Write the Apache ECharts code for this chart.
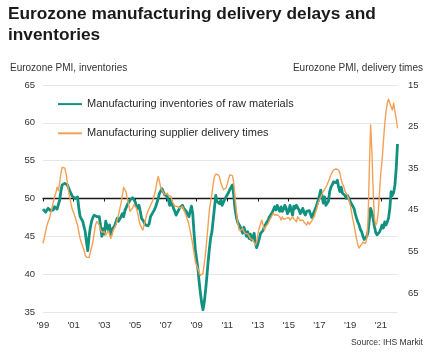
<!DOCTYPE html>
<html><head><meta charset="utf-8">
<script src="https://cdn.jsdelivr.net/npm/echarts@6/dist/echarts.min.js"></script>
<style>html,body{margin:0;padding:0;background:#fff}#c{width:438px;height:356px}</style>
</head><body><div id="c"></div>
<script>
const titleText = 'Eurozone manufacturing delivery delays and\ninventories';
const leftAxisName = 'Eurozone PMI, inventories';
const rightAxisName = 'Eurozone PMI, delivery times';
const sourceText = 'Source: IHS Markit';
const seriesNames = ['Manufacturing inventories of raw materials', 'Manufacturing supplier delivery times'];

// monthly categories Jan 1999 - Feb 2022
const startYear = 1999, endYear = 2022, endMonth = 2;
const months = [];
for (let y = startYear; y <= endYear; y++) {
  for (let m = 1; m <= 12; m++) {
    if (y === endYear && m > endMonth) break;
    months.push(y + '-' + String(m).padStart(2, '0'));
  }
}
const xTickYears = ['1999','2001','2003','2005','2007','2009','2011','2013','2015','2017','2019','2021'];
const xTickLabels = ["'99","'01","'03","'05","'07","'09","'11","'13","'15","'17","'19","'21"];
const leftMin = 35, leftMax = 65, leftStep = 5;
const rightMin = 15, rightMax = 69.6;
const rightTickLabels = [15, 25, 35, 45, 55, 65];

// Eurozone PMI, manufacturing inventories of raw materials (left axis)
const inventories = [
  48.6, 48.4, 48.2, 48.3, 48.7, 48.8, 48.4, 48.2, 48.5, 48.9, 49.0, 48.6,
  48.5, 49.8, 51.0, 51.8, 51.6, 52.0, 52.1, 51.8, 51.6, 51.0, 50.6, 50.3,
  50.1, 50.0, 49.9, 50.2, 48.7, 47.6, 47.3, 47.0, 46.8, 45.6, 44.2, 43.1,
  45.0, 46.2, 47.0, 47.5, 47.8, 48.0, 47.6, 47.8, 47.6, 46.3, 45.0, 46.0,
  45.3, 47.0, 46.9, 45.8, 46.5, 45.2, 45.9, 46.0, 46.4, 46.9, 47.4, 47.0,
  47.0, 47.6, 48.0, 47.6, 48.4, 48.8, 49.2, 49.5, 49.8, 49.9, 50.1, 50.0,
  49.6, 49.0, 48.7, 49.1, 48.3, 47.4, 47.2, 46.9, 46.5, 46.3, 46.4, 46.7,
  47.6, 47.9, 48.2, 48.5, 48.9, 49.4, 50.0, 50.7, 51.0, 51.3, 50.9, 50.5,
  50.4, 50.3, 49.8, 49.1, 49.8, 49.2, 48.7, 48.3, 47.8, 48.0, 48.5, 48.8,
  48.9, 49.1, 48.7, 48.5, 48.3, 47.9, 47.6, 47.8, 49.0, 48.0, 45.5, 43.3,
  42.0, 40.8, 39.0, 37.5, 36.2, 35.3, 36.3, 37.8, 39.6, 41.6, 43.3, 44.8,
  45.6, 47.2, 48.8, 50.4, 49.6, 49.8, 49.3, 49.8, 49.1, 49.5, 49.9, 50.2,
  50.3, 50.8, 51.2, 51.5, 51.8, 50.5, 48.7, 47.6, 46.9, 46.7, 46.3, 46.1,
  45.4, 46.2, 45.6, 45.0, 45.6, 44.7, 45.3, 44.5, 44.9, 45.4, 44.0, 43.5,
  43.6, 44.7, 45.4, 45.2, 45.8, 46.3, 46.5, 46.9, 47.2, 47.6, 47.8, 48.1,
  48.3, 48.9, 48.5, 49.1, 48.6, 48.3, 48.9, 48.3, 48.6, 49.1, 48.7, 48.0,
  48.3, 49.1, 48.5, 47.8, 49.0, 48.7, 49.1, 48.9, 48.5, 48.0, 48.3, 48.7,
  48.1, 47.8, 48.3, 48.5, 48.4, 48.2, 47.5, 47.9, 48.3, 48.7, 49.2, 49.8,
  50.4, 51.1, 50.4, 49.4, 50.2, 49.1, 48.9, 49.6, 50.9, 51.5, 51.8, 52.2,
  52.0, 52.1, 52.4, 51.5, 50.9, 51.5, 50.7, 50.9, 50.4, 50.0, 50.4, 50.0,
  49.8, 49.3, 49.1, 48.7, 48.0, 47.4, 46.9, 46.5, 45.9, 45.6, 45.0, 44.6,
  44.5, 45.0, 45.6, 47.2, 48.7, 48.2, 47.3, 46.3, 45.5, 45.2, 45.0, 45.6,
  46.0, 46.5, 46.1, 46.9, 46.5, 46.9, 47.4, 48.7, 50.9, 50.4, 50.8, 51.8,
  54.0, 57.2
];

// Eurozone PMI, manufacturing supplier delivery times (right axis, inverted)
const deliveryTimes = [
  53.1, 51.8, 50.3, 48.9, 47.9, 47.2, 45.8, 44.6, 43.2, 42.0, 41.0, 39.6,
  40.4, 38.6, 36.2, 34.8, 34.5, 35.0, 36.2, 38.4, 40.6, 42.2, 43.8, 45.0,
  45.8, 46.7, 47.7, 48.7, 50.3, 51.9, 53.0, 53.8, 54.7, 55.9, 56.4, 56.7,
  56.5, 55.2, 54.0, 52.7, 50.7, 48.7, 47.8, 47.5, 48.7, 49.9, 50.4, 50.7,
  50.3, 51.1, 50.6, 50.0, 50.4, 51.9, 50.9, 49.9, 49.3, 48.7, 47.5, 46.2,
  44.8, 43.4, 41.5, 39.6, 39.3, 40.8, 42.6, 43.8, 45.4, 45.0, 44.6, 43.8,
  44.2, 44.6, 45.8, 47.5, 48.6, 49.3, 49.9, 48.7, 47.5, 46.2, 45.4, 44.6,
  44.0, 43.6, 42.6, 41.4, 40.2, 38.4, 37.0, 38.2, 39.8, 40.3, 40.6, 41.4,
  41.4, 41.0, 41.6, 41.8, 41.8, 43.0, 43.6, 44.2, 44.6, 44.2, 44.4, 44.6,
  45.0, 44.2, 45.0, 45.8, 46.6, 47.5, 48.6, 50.1, 51.6, 53.4, 55.3, 57.4,
  58.4, 59.1, 60.2, 60.8, 61.1, 60.3, 58.0, 55.5, 52.2, 48.6, 45.0, 43.0,
  41.2, 38.8, 37.0, 36.4, 36.2, 36.6, 37.2, 38.6, 39.4, 40.2, 40.6, 39.8,
  38.8, 37.6, 36.6, 36.2, 36.8, 38.4, 41.8, 45.0, 48.0, 49.6, 50.1, 50.3,
  49.5, 50.2, 50.7, 50.3, 50.8, 51.1, 51.9, 51.5, 52.3, 53.0, 53.5, 52.7,
  50.7, 49.4, 48.3, 47.5, 48.7, 49.9, 49.1, 48.7, 48.3, 47.5, 47.0, 46.7,
  45.8, 46.3, 46.7, 46.2, 45.8, 46.7, 47.5, 46.7, 47.3, 47.5, 47.1, 46.7,
  46.9, 47.5, 47.1, 46.7, 47.2, 47.5, 47.9, 46.7, 47.1, 47.6, 47.9, 47.5,
  48.0, 48.3, 48.7, 47.9, 48.5, 48.3, 47.7, 47.3, 46.6, 45.6, 44.6, 43.4,
  42.6, 42.0, 41.6, 40.6, 40.3, 39.6, 39.0, 38.2, 37.4, 36.6, 36.0, 35.4,
  35.0, 35.2, 35.4, 35.5, 36.2, 37.8, 38.8, 39.4, 40.6, 41.0, 41.6, 42.6,
  43.8, 45.4, 47.2, 48.6, 50.3, 52.0, 53.4, 54.2, 54.0, 53.3, 52.8, 53.1,
  53.1, 51.9, 47.5, 35.0, 24.6, 31.0, 40.6, 47.1, 48.7, 48.0, 45.4, 40.5,
  36.0, 33.0, 28.5, 24.5, 21.4, 19.4, 18.4, 19.4, 19.0, 21.0, 19.4, 21.4,
  23.0, 25.4
];

const FONT = "'Liberation Sans', Arial, sans-serif";
const TEAL = '#11917f';
const ORANGE = '#f4a055';
const isTickMonth = (v) => v.endsWith('-01') && xTickYears.indexOf(v.slice(0, 4)) >= 0;

const chart = echarts.init(document.getElementById('c'), null, { renderer: 'canvas' });
chart.setOption({
  animation: false,
  backgroundColor: '#fff',
  textStyle: { fontFamily: FONT },
  title: {
    text: titleText, left: 8, top: 4, padding: 0,
    textStyle: { fontSize: 17.3, fontWeight: 'bold', color: '#1a1a1a', lineHeight: 21, fontFamily: FONT }
  },
  legend: {
    show: true, orient: 'vertical', left: 57, top: 98.5, padding: 0,
    itemWidth: 24, itemHeight: 14, itemGap: 18,
    itemStyle: { opacity: 0 },
    textStyle: { fontSize: 11, color: '#2a2a2a', fontFamily: FONT },
    data: seriesNames
  },
  graphic: [
    { type: 'text', left: 10, top: 63, style: { text: leftAxisName, fontSize: 10, fill: '#333', fontFamily: FONT } },
    { type: 'text', right: 15, top: 63, style: { text: rightAxisName, fontSize: 10, fill: '#333', fontFamily: FONT } },
    { type: 'text', right: 15, top: 338, style: { text: sourceText, fontSize: 8.6, fill: '#333', fontFamily: FONT } }
  ],
  grid: { left: 43, right: 40.5, top: 85, bottom: 44, containLabel: false },
  xAxis: [
    {
      type: 'category', data: months, boundaryGap: false, position: 'bottom',
      axisLine: { show: false }, axisTick: { show: false }, splitLine: { show: false },
      axisLabel: {
        interval: (i, v) => isTickMonth(v),
        formatter: (v) => { const k = xTickYears.indexOf(v.slice(0, 4)); return k >= 0 ? xTickLabels[k] : ''; },
        fontSize: 9.5, color: '#333', margin: 8, fontFamily: FONT
      }
    },
    {
      type: 'category', data: months, boundaryGap: false, position: 'bottom',
      axisLine: { show: true, onZero: true, onZeroAxisIndex: 2, lineStyle: { color: '#1a1a1a', width: 1.3 } },
      axisTick: { show: true, length: 3, interval: (i, v) => isTickMonth(v), lineStyle: { color: '#1a1a1a', width: 1 } },
      axisLabel: { show: false }, splitLine: { show: false }
    }
  ],
  yAxis: [
    {
      type: 'value', min: leftMin, max: leftMax, interval: leftStep, position: 'left',
      axisLine: { show: false }, axisTick: { show: false },
      splitLine: { show: true, lineStyle: { color: '#e6e6e6', width: 1 } },
      axisLabel: { fontSize: 9.5, color: '#333', margin: 8, fontFamily: FONT }
    },
    {
      type: 'value', min: rightMin, max: rightMax, inverse: true, position: 'right',
      axisLine: { show: false }, axisTick: { show: false }, splitLine: { show: false },
      axisLabel: { customValues: rightTickLabels, fontSize: 9.5, color: '#333', margin: 10.5, fontFamily: FONT }
    },
    { type: 'value', min: -1, max: 1, show: false }
  ],
  series: [
    {
      name: seriesNames[0], type: 'line', xAxisIndex: 0, yAxisIndex: 0,
      data: inventories, symbol: 'none', showSymbol: false,
      lineStyle: { color: TEAL, width: 2.8, join: 'round' }, itemStyle: { color: TEAL }, z: 3
    },
    {
      name: seriesNames[1], type: 'line', xAxisIndex: 0, yAxisIndex: 1,
      data: deliveryTimes, symbol: 'none', showSymbol: false,
      lineStyle: { color: ORANGE, width: 1.4, join: 'round' }, itemStyle: { color: ORANGE }, z: 4
    }
  ]
});
</script>
</body></html>
